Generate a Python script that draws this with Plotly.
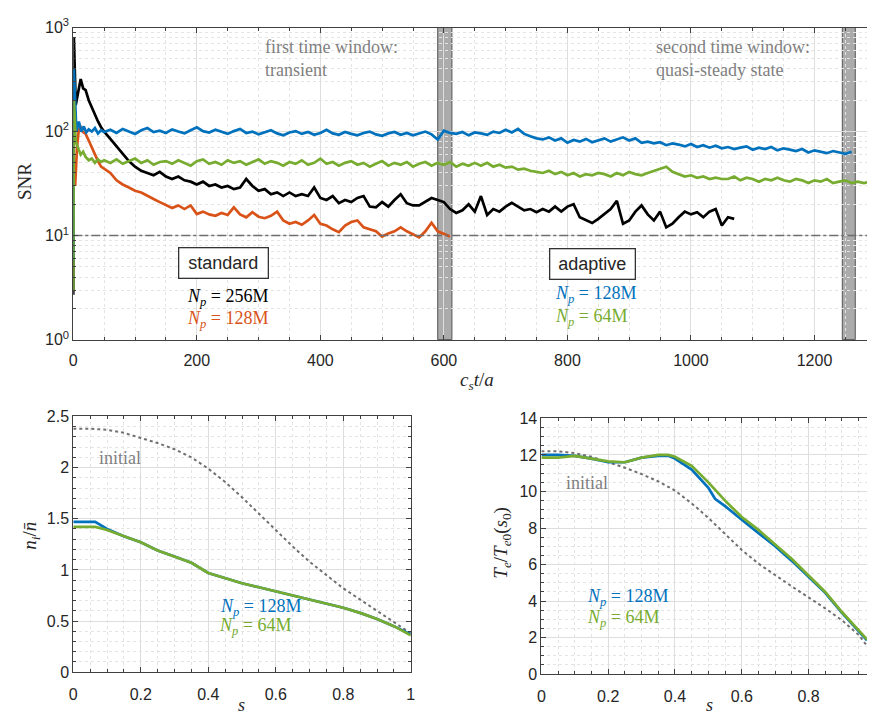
import plotly.graph_objects as go

W, H = 872, 723

# ---------------- top panel: SNR vs c_s t / a ----------------
t_black = [0, 1, 4, 8, 12, 16, 20, 25, 30, 35, 40, 45, 50] + list(range(60, 1071, 10))
snr_black = [2.7, 800, 180, 250, 320, 260, 250, 200, 170, 150, 125, 110, 100,
             85, 72, 62, 52, 46, 42, 40, 38, 41, 37,
             35, 37, 34, 33, 31, 33, 30, 31, 29, 30,
             28, 29, 35, 30, 27, 28, 25, 26, 24, 26,
             24, 25, 24, 29, 23, 22, 24, 20.5, 22, 21,
             23, 24, 19, 18.7, 21, 19, 22, 25, 20.5, 19.5,
             19.5, 21, 23, 22, 21, 18, 16.5, 17.5, 20, 17,
             24, 15.8, 18, 17, 19, 20.7, 19, 17.5, 18, 16.8,
             18, 17, 19, 17, 19, 20, 15, 14, 13.2, 14.5,
             16, 18, 21.6, 13, 14, 17, 19.5, 16, 14, 17,
             12, 13, 15, 17, 16, 16.8, 15, 17, 18, 12.5,
             15, 14.5]

t_orange = [3, 6, 9, 12, 15, 20, 25, 30, 35, 40, 45, 50] + list(range(60, 611, 10))
snr_orange = [30, 70, 105, 110, 100, 95, 82, 70, 61, 52, 46, 44,
              40, 34, 31, 29, 27, 26, 24, 22.5, 21, 19.5,
              18.4, 19.5, 18, 19.5, 16.1, 17, 16, 15.5, 16.5, 15.8,
              18.7, 16, 15, 16.8, 15.2, 14.7, 15.5, 17, 14, 13,
              13.5, 12.7, 14, 15.8, 13, 12.5, 11.5, 10.8, 12.5, 13.5,
              14, 12, 11.4, 11, 9.8, 10.5, 11, 12, 11, 10.2,
              9.6, 11, 13.3, 11, 10.3, 9.8]

t_blue = [0, 1, 5, 9, 13, 17, 21, 25, 30, 35, 40, 45, 50] + list(range(60, 1261, 10))
snr_blue = [5.7, 400, 100, 125, 100, 112, 98, 105, 100, 108, 96, 103, 99,
            104, 97, 106, 100, 95, 103, 108, 99, 102, 97,
            105, 100, 96, 103, 110, 101, 98, 104, 99, 95,
            101, 106, 97, 100, 94, 99, 103, 96, 92, 98,
            101, 95, 99, 93, 97, 104, 96, 93, 99, 95,
            92, 97, 100, 94, 91, 96, 99, 93, 97, 92,
            96, 100, 94, 84, 102, 97, 95, 99, 92, 98,
            96, 93, 100, 97, 104, 98, 106, 95, 90, 86,
            84, 88, 82, 86, 78, 83, 80, 85, 79, 82,
            86, 80, 84, 88, 82, 86, 78, 80, 77, 79,
            74, 77, 75, 72, 76, 71, 74, 70, 73, 69,
            71, 68, 70, 72, 67, 70, 68, 71, 66, 69,
            67, 65, 68, 63, 66, 64, 62, 65, 63, 61,
            64]

t_green = [0, 1, 4, 8, 12, 16, 20, 25, 30, 35, 40, 45, 50] + list(range(60, 1291, 10))
snr_green = [3.0, 200, 80, 68, 60, 64, 57, 53, 55, 50, 54, 51, 53,
             50, 54, 49, 52, 55, 50, 53, 48, 51, 52,
             49, 53, 50, 47, 52, 54, 49, 51, 48, 53,
             50, 52, 48, 51, 54, 49, 52, 50, 47, 51,
             49, 53, 48, 50, 55, 49, 51, 47, 50, 52,
             48, 50, 46, 49, 52, 47, 50, 48, 51, 46,
             49, 51, 47, 50, 48, 51, 46, 49, 47, 50,
             47, 50, 46, 48, 45, 46, 43, 44, 42, 41,
             40, 42, 39, 41, 38, 40, 37, 39, 38, 40,
             39, 37, 40, 38, 41, 39, 38, 40, 42, 44,
             46, 41, 39, 37, 38, 36, 37, 35, 36, 35,
             35, 37, 34, 36, 35, 33, 35, 34, 36, 34,
             33, 35, 34, 32, 34, 33, 35, 32, 33, 34,
             32, 33, 32, 33]

snr_threshold = 10
window_1 = [590, 613]
window_2 = [1245, 1266]
t_range = [0, 1285]
t_ticks = [0, 200, 400, 600, 800, 1000, 1200]
snr_ticks = [1, 10, 100, 1000]
snr_ticktext = ["10<sup>0</sup>", "10<sup>1</sup>", "10<sup>2</sup>", "10<sup>3</sup>"]
snr_minor = [2, 3, 4, 5, 6, 7, 8, 9, 20, 30, 40, 50, 60, 70, 80, 90, 200, 300, 400, 500, 600, 700, 800, 900]

# ---------------- bottom-left: n_i / n_bar ----------------
s_ni = [0, 0.05, 0.1, 0.15, 0.2, 0.25, 0.3, 0.35, 0.4, 0.45, 0.5, 0.55, 0.6, 0.65, 0.7, 0.75, 0.8, 0.85, 0.9, 0.95, 1.0]
ni_initial = [2.38, 2.38, 2.37, 2.34, 2.29, 2.24, 2.18, 2.10, 1.99, 1.86, 1.71, 1.55, 1.39, 1.23, 1.08, 0.95, 0.82, 0.71, 0.60, 0.49, 0.38]
s_ni_run = [0, 0.065, 0.1, 0.15, 0.2, 0.25, 0.3, 0.35, 0.4, 0.45, 0.5, 0.55, 0.6, 0.65, 0.7, 0.75, 0.8, 0.85, 0.9, 0.95, 1.0]
ni_128 = [1.47, 1.47, 1.40, 1.33, 1.27, 1.19, 1.13, 1.07, 0.97, 0.92, 0.87, 0.83, 0.79, 0.75, 0.71, 0.67, 0.63, 0.58, 0.52, 0.45, 0.37]
ni_64 = [1.42, 1.42, 1.39, 1.33, 1.27, 1.19, 1.13, 1.07, 0.97, 0.92, 0.87, 0.83, 0.79, 0.75, 0.71, 0.67, 0.63, 0.58, 0.52, 0.45, 0.36]

# ---------------- bottom-right: T_e / T_e0(s0) ----------------
s_te_init = [0, 0.05, 0.1, 0.15, 0.2, 0.25, 0.3, 0.35, 0.4, 0.45, 0.5, 0.55, 0.6, 0.65, 0.7, 0.75, 0.8, 0.85, 0.9, 0.95, 0.975]
te_initial = [12.2, 12.2, 12.1, 11.9, 11.6, 11.3, 10.95, 10.55, 10.05, 9.35, 8.55, 7.65, 6.8, 6.05, 5.4, 4.8, 4.2, 3.6, 2.95, 2.15, 1.55]
s_te = [0, 0.05, 0.1, 0.15, 0.2, 0.25, 0.3, 0.35, 0.38, 0.4, 0.45, 0.5, 0.52, 0.55, 0.6, 0.65, 0.7, 0.75, 0.8, 0.85, 0.9, 0.95, 0.975]
te_128 = [12.0, 12.0, 11.95, 11.8, 11.6, 11.6, 11.85, 11.95, 11.95, 11.8, 11.2, 10.2, 9.6, 9.2, 8.45, 7.75, 7.0, 6.2, 5.35, 4.45, 3.35, 2.35, 1.85]
te_64 = [11.85, 11.85, 11.95, 11.8, 11.65, 11.6, 11.85, 12.0, 12.0, 11.9, 11.4, 10.5, 10.1, 9.5, 8.6, 7.9, 7.1, 6.3, 5.4, 4.5, 3.4, 2.4, 1.9]

# ---------------- styles ----------------
BLUE, ORANGE, GREEN, BLACK = "#0072BD", "#D95319", "#77AC30", "#000000"
GRAYTXT = "#7f7f7f"
SERIF = "Liberation Serif"
SANS = "Liberation Sans"
AXC = "#404040"
LW = 2.7


def px(x, y):
    return x / W, 1 - y / H


fig = go.Figure()
for t, v, c in [(t_black, snr_black, BLACK), (t_orange, snr_orange, ORANGE),
                (t_blue, snr_blue, BLUE), (t_green, snr_green, GREEN)]:
    fig.add_trace(go.Scatter(x=t, y=v, mode="lines", line=dict(color=c, width=LW),
                             xaxis="x", yaxis="y", showlegend=False, hoverinfo="skip"))
fig.add_trace(go.Scatter(x=t_range, y=[snr_threshold, snr_threshold], mode="lines",
                         line=dict(color="#6e6e6e", width=1.5, dash="dashdot"),
                         xaxis="x", yaxis="y", showlegend=False, hoverinfo="skip"))

fig.add_trace(go.Scatter(x=s_ni, y=ni_initial, mode="lines", line=dict(color="#707070", width=2, dash="dot"),
                         xaxis="x2", yaxis="y2", showlegend=False))
fig.add_trace(go.Scatter(x=s_ni_run, y=ni_128, mode="lines", line=dict(color=BLUE, width=LW),
                         xaxis="x2", yaxis="y2", showlegend=False))
fig.add_trace(go.Scatter(x=s_ni_run, y=ni_64, mode="lines", line=dict(color=GREEN, width=LW),
                         xaxis="x2", yaxis="y2", showlegend=False))

fig.add_trace(go.Scatter(x=s_te_init, y=te_initial, mode="lines", line=dict(color="#707070", width=2, dash="dot"),
                         xaxis="x3", yaxis="y3", showlegend=False))
fig.add_trace(go.Scatter(x=s_te, y=te_128, mode="lines", line=dict(color=BLUE, width=LW),
                         xaxis="x3", yaxis="y3", showlegend=False))
fig.add_trace(go.Scatter(x=s_te, y=te_64, mode="lines", line=dict(color=GREEN, width=LW),
                         xaxis="x3", yaxis="y3", showlegend=False))

tickfont = dict(family=SANS, size=16, color="#262626")
common = dict(showline=True, linecolor=AXC, linewidth=1, ticks="inside", ticklen=5,
              tickcolor=AXC, tickfont=tickfont, zeroline=False,
              showgrid=True, gridcolor="#dedede", gridwidth=1)


def minor(d=None, vals=None):
    m = dict(showgrid=True, gridcolor="#e4e4e4", griddash="dot",
             ticks="inside", ticklen=3, tickcolor=AXC)
    if vals is not None:
        m["tickvals"] = vals
    else:
        m["dtick"] = d
    return m


fig.update_layout(
    width=W, height=H, margin=dict(l=0, r=0, t=0, b=0),
    paper_bgcolor="white", plot_bgcolor="white",
    xaxis=dict(domain=[70 / W, 1.0], range=t_range, anchor="y", tickvals=t_ticks,
               mirror="ticks", minor=minor(50), ticklabelstandoff=6, **common),
    yaxis=dict(domain=[1 - 338 / H, 1 - 17 / H], type="log", range=[0, 3], anchor="x",
               tickvals=snr_ticks, ticktext=snr_ticktext, minor=minor(vals=snr_minor), **common),
    xaxis2=dict(domain=[70 / W, 411 / W], range=[0, 1], anchor="y2", dtick=0.2, tick0=0,
                mirror="ticks", minor=minor(0.05), ticklabelstandoff=8, **common),
    yaxis2=dict(domain=[1 - 680 / H, 1 - 417 / H], range=[0, 2.5], anchor="x2", dtick=0.5,
                mirror="ticks", minor=minor(0.1), **common),
    xaxis3=dict(domain=[543 / W, 1.0], range=[0, 0.975], anchor="y3", dtick=0.2, tick0=0,
                mirror="ticks", minor=minor(0.05), ticklabelstandoff=8, **common),
    yaxis3=dict(domain=[1 - 682 / H, 1 - 419 / H], range=[0, 14], anchor="x3", dtick=2,
                minor=minor(0.5), **common),
)

for w in (window_1, window_2):
    fig.add_shape(type="rect", xref="x", yref="paper", x0=w[0], x1=w[1],
                  y0=1 - 338 / H, y1=1 - 17 / H,
                  fillcolor="#ababab", line=dict(color="#555555", width=1), layer="below")

ann = []


def text(x, y, s, color="#262626", size=18, family=SERIF, xanchor="left", angle=0, **kw):
    xx, yy = px(x, y)
    ann.append(dict(x=xx, y=yy, xref="paper", yref="paper", text=s, showarrow=False,
                    xanchor=xanchor, yanchor="middle", textangle=angle,
                    font=dict(family=family, size=size, color=color), **kw))


NP = "<i>N</i><sub><i>p</i></sub> = "
text(262, 49, "first time window:<br>transient", GRAYTXT, align="left")
text(657, 49, "second time window:<br>quasi-steady state", GRAYTXT, align="left")
text(222, 259, "standard", "#262626", 18, SANS, "center", bordercolor="#333333",
     borderwidth=1.3, borderpad=1, bgcolor="white", width=86, height=27)
text(183, 295, NP + "256M", BLACK)
text(183, 317, NP + "128M", ORANGE)
text(595, 260, "adaptive", "#262626", 18, SANS, "center", bordercolor="#333333",
     borderwidth=1.3, borderpad=1, bgcolor="white", width=82, height=27)
text(555, 292, NP + "128M", BLUE)
text(555, 315, NP + "64M", GREEN)

text(117, 460, "initial", GRAYTXT, xanchor="center")
text(216, 613, NP + "128M", BLUE)
text(215, 633, NP + "64M", GREEN)
text(589, 485, "initial", GRAYTXT, xanchor="center")
text(587, 603, NP + "128M", BLUE)
text(587, 625, NP + "64M", GREEN)

text(20, 175, "SNR", "#262626", 19, xanchor="center", angle=-90)
text(478, 381, "<i>c</i><sub><i>s</i></sub><i>t</i>/<i>a</i>", "#262626", 19, xanchor="center")
text(27, 540, "<i>n</i><sub><i>i</i></sub>/<i>n̄</i>", "#262626", 19, xanchor="center", angle=-90)
text(503, 547, "<i>T</i><sub><i>e</i></sub>/<i>T</i><sub><i>e</i>0</sub>(<i>s</i><sub>0</sub>)",
     "#262626", 19, xanchor="center", angle=-90)
text(240, 714, "<i>s</i>", "#262626", 18, xanchor="center")
text(713, 714, "<i>s</i>", "#262626", 18, xanchor="center")

fig.update_layout(annotations=ann)
fig.write_html("out.html")
